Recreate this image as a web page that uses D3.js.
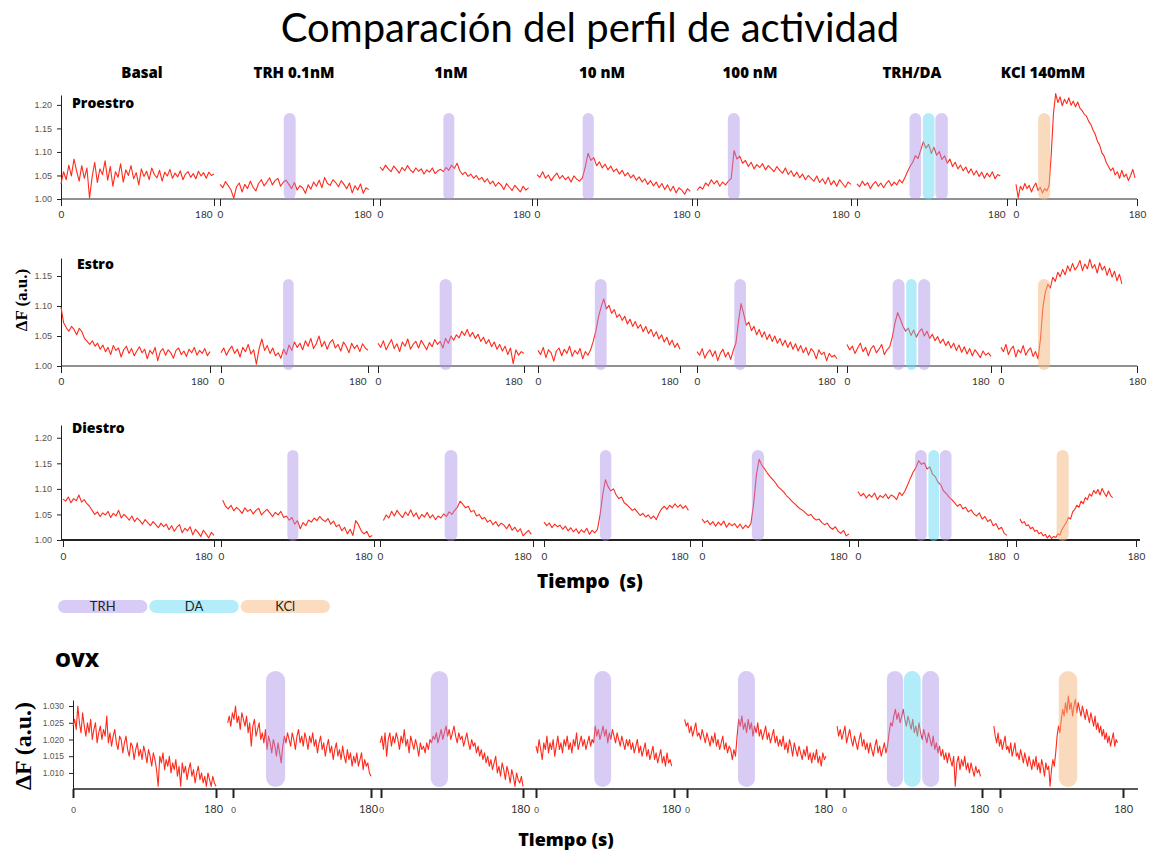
<!DOCTYPE html>
<html lang="es">
<head>
<meta charset="UTF-8">
<title>Comparación del perfil de actividad</title>
<style>
  body { margin: 0; background: #fff; }
  svg { display: block; }
  .title { font-family: Lato, "Open Sans", sans-serif; font-size: 40px; fill: #000; }
  .bold { font-family: "Open Sans", Lato, sans-serif; font-weight: 700; fill: #000; }
  .trace { fill: none; stroke: #ff2a1c; stroke-width: 1.1; stroke-linejoin: round; }
  .yaxis text { font-family: "Liberation Sans", Arial, sans-serif; font-size: 9px; fill: #555; }
  .xaxis text { font-family: Lato, sans-serif; font-size: 10px; fill: #333; }
  .yaxis path, .yaxis line, .xaxis line { stroke: #222; }
  .ylab { font-family: "Liberation Serif", "DejaVu Serif", serif; font-weight: 700; fill: #000; }
  .legend text { font-family: Lato, sans-serif; font-size: 13px; fill: #222; }
</style>
</head>
<body>
<svg id="chart" width="1151" height="852"></svg>

<script src="https://d3js.org/d3.v7.min.js"></script>
<script>
// ---- data ----
const chartTitle = 'Comparación del perfil de actividad';
const conditions = ['Basal', 'TRH 0.1nM', '1nM', '10 nM', '100 nM', 'TRH/DA', 'KCl 140mM'];
const agents = ['TRH', 'DA', 'KCl'];
const xTicks = [0, 180];

// traces, one array per condition (ΔF, evenly sampled between the span limits, in s)
const proestroTraces = [
  [1.032,1.058,1.041,1.072,1.049,1.085,1.060,1.038,1.071,1.044,1.066,1.002,1.047,1.078,1.035,1.064,1.052,1.081,1.040,1.069,1.027,1.058,1.046,1.075,1.036,1.062,1.050,1.071,1.043,1.056,1.030,1.064,1.048,1.059,1.041,1.066,1.052,1.045,1.061,1.038,1.057,1.049,1.063,1.044,1.055,1.047,1.060,1.041,1.053,1.058,1.046,1.054,1.043,1.059,1.049,1.056,1.044,1.057,1.050,1.053],
  [1.031,1.024,1.037,1.028,1.019,1.002,1.026,1.034,1.015,1.031,1.022,1.038,1.025,1.017,1.033,1.041,1.028,1.036,1.045,1.030,1.039,1.044,1.027,1.036,1.040,1.031,1.022,1.035,1.019,1.028,1.024,1.012,1.030,1.021,1.036,1.027,1.040,1.024,1.046,1.033,1.029,1.041,1.035,1.026,1.039,1.031,1.022,1.034,1.013,1.028,1.019,1.032,1.012,1.024,1.020],
  [1.068,1.061,1.072,1.064,1.058,1.070,1.063,1.055,1.067,1.060,1.071,1.062,1.056,1.066,1.059,1.064,1.053,1.062,1.057,1.066,1.054,1.060,1.063,1.058,1.067,1.061,1.072,1.065,1.076,1.060,1.052,1.057,1.048,1.053,1.044,1.050,1.041,1.046,1.036,1.043,1.032,1.038,1.027,1.035,1.030,1.020,1.033,1.025,1.018,1.029,1.022,1.015,1.027,1.019,1.024],
  [1.052,1.046,1.058,1.044,1.051,1.039,1.048,1.055,1.043,1.050,1.041,1.047,1.036,1.049,1.042,1.038,1.045,1.068,1.097,1.082,1.088,1.071,1.079,1.066,1.074,1.062,1.070,1.058,1.064,1.053,1.061,1.049,1.056,1.045,1.051,1.040,1.047,1.036,1.043,1.031,1.039,1.028,1.036,1.024,1.033,1.020,1.030,1.017,1.027,1.013,1.024,1.019,1.010,1.022,1.016],
  [1.018,1.026,1.021,1.034,1.028,1.041,1.032,1.039,1.027,1.036,1.030,1.038,1.044,1.103,1.085,1.091,1.076,1.082,1.069,1.078,1.064,1.073,1.067,1.075,1.062,1.071,1.065,1.058,1.069,1.061,1.055,1.066,1.052,1.060,1.048,1.057,1.045,1.053,1.041,1.050,1.044,1.038,1.049,1.035,1.043,1.032,1.046,1.030,1.039,1.027,1.041,1.033,1.025,1.036,1.031],
  [1.032,1.026,1.038,1.029,1.035,1.022,1.031,1.037,1.027,1.034,1.024,1.033,1.039,1.028,1.036,1.030,1.041,1.034,1.045,1.058,1.069,1.078,1.092,1.086,1.104,1.122,1.108,1.116,1.097,1.110,1.093,1.101,1.084,1.092,1.076,1.085,1.069,1.078,1.064,1.072,1.060,1.068,1.055,1.064,1.051,1.060,1.048,1.057,1.044,1.055,1.047,1.058,1.043,1.052,1.049],
  [1.031,1.003,1.027,1.019,1.033,1.022,1.029,1.015,1.026,1.034,1.018,1.025,1.013,1.022,1.017,1.028,1.095,1.182,1.224,1.205,1.217,1.198,1.212,1.203,1.215,1.199,1.208,1.196,1.206,1.193,1.188,1.180,1.176,1.165,1.158,1.146,1.137,1.122,1.114,1.098,1.091,1.077,1.069,1.060,1.066,1.051,1.058,1.044,1.061,1.047,1.053,1.039,1.050,1.063,1.045]
];
const proestroSpans = [[0, 180], [0, 175], [0, 176], [0, 178], [0, 180], [0, 172], [0, 177]];

const estroTraces = [
  [1.098,1.072,1.064,1.058,1.066,1.061,1.052,1.063,1.057,1.046,1.041,1.036,1.042,1.033,1.038,1.028,1.035,1.024,1.031,1.019,1.034,1.026,1.030,1.015,1.027,1.033,1.021,1.029,1.017,1.025,1.032,1.022,1.028,1.012,1.026,1.020,1.031,1.009,1.024,1.029,1.018,1.027,1.022,1.013,1.026,1.030,1.019,1.025,1.016,1.028,1.022,1.031,1.018,1.026,1.021,1.029,1.017,1.024],
  [1.022,1.030,1.018,1.027,1.033,1.021,1.028,1.015,1.031,1.024,1.036,1.020,1.027,1.003,1.029,1.045,1.026,1.034,1.021,1.030,1.017,1.022,1.013,1.028,1.019,1.035,1.026,1.040,1.031,1.038,1.027,1.042,1.033,1.046,1.029,1.037,1.050,1.032,1.041,1.028,1.039,1.044,1.030,1.036,1.025,1.040,1.033,1.022,1.038,1.029,1.035,1.024,1.037,1.030,1.026],
  [1.038,1.031,1.042,1.027,1.036,1.044,1.029,1.037,1.024,1.040,1.033,1.045,1.028,1.036,1.041,1.030,1.043,1.035,1.027,1.039,1.032,1.044,1.036,1.041,1.030,1.046,1.038,1.050,1.043,1.052,1.047,1.058,1.051,1.061,1.049,1.056,1.046,1.053,1.041,1.048,1.037,1.044,1.032,1.040,1.028,1.036,1.025,1.033,1.019,1.030,1.004,1.027,1.018,1.024,1.021],
  [1.026,1.019,1.031,1.014,1.027,1.022,1.008,1.025,1.030,1.017,1.028,1.021,1.033,1.016,1.026,1.020,1.029,1.012,1.024,1.018,1.027,1.041,1.058,1.082,1.098,1.112,1.095,1.101,1.088,1.094,1.081,1.086,1.076,1.083,1.070,1.078,1.066,1.074,1.063,1.069,1.057,1.066,1.054,1.061,1.049,1.057,1.045,1.052,1.040,1.048,1.035,1.043,1.031,1.038,1.028],
  [1.024,1.018,1.029,1.013,1.022,1.027,1.016,1.025,1.009,1.021,1.028,1.015,1.023,1.011,1.026,1.038,1.074,1.104,1.087,1.068,1.073,1.059,1.066,1.052,1.061,1.048,1.057,1.044,1.053,1.041,1.050,1.038,1.046,1.034,1.043,1.031,1.040,1.028,1.037,1.025,1.034,1.022,1.031,1.018,1.029,1.024,1.012,1.027,1.019,1.023,1.009,1.021,1.015,1.018,1.012],
  [1.036,1.027,1.033,1.021,1.030,1.038,1.024,1.031,1.017,1.029,1.034,1.022,1.028,1.036,1.019,1.027,1.032,1.048,1.072,1.089,1.078,1.066,1.058,1.063,1.051,1.060,1.048,1.057,1.062,1.050,1.058,1.046,1.053,1.042,1.049,1.038,1.045,1.034,1.041,1.030,1.038,1.026,1.035,1.023,1.032,1.020,1.029,1.017,1.027,1.021,1.014,1.025,1.018,1.022,1.016],
  [1.031,1.024,1.036,1.019,1.028,1.033,1.015,1.027,1.022,1.034,1.018,1.026,1.030,1.016,1.024,1.012,1.045,1.098,1.124,1.136,1.130,1.148,1.141,1.156,1.149,1.161,1.152,1.167,1.158,1.171,1.160,1.166,1.176,1.159,1.170,1.162,1.178,1.163,1.169,1.155,1.172,1.160,1.166,1.151,1.163,1.148,1.158,1.142,1.153,1.137]
];
const estroSpans = [[0, 180], [0, 180], [0, 180], [0, 180], [0, 180], [0, 180], [0, 160]];

const diestroTraces = [
  [1.080,1.076,1.084,1.073,1.081,1.077,1.088,1.074,1.079,1.071,1.066,1.058,1.050,1.055,1.046,1.053,1.049,1.056,1.044,1.052,1.047,1.058,1.043,1.050,1.045,1.039,1.047,1.036,1.043,1.038,1.031,1.040,1.034,1.028,1.036,1.030,1.024,1.033,1.026,1.031,1.020,1.028,1.017,1.025,1.030,1.014,1.023,1.018,1.026,1.010,1.021,1.015,1.007,1.019,1.012,1.004,1.015,1.009],
  [1.078,1.066,1.061,1.068,1.057,1.064,1.059,1.052,1.063,1.056,1.060,1.051,1.058,1.062,1.049,1.055,1.060,1.053,1.046,1.054,1.049,1.056,1.044,1.047,1.039,1.044,1.031,1.038,1.022,1.034,1.028,1.039,1.035,1.043,1.038,1.046,1.040,1.036,1.042,1.031,1.037,1.026,1.030,1.018,1.025,1.012,1.021,1.009,1.038,1.030,1.018,1.012,1.017,1.006,1.009],
  [1.038,1.049,1.043,1.056,1.047,1.058,1.050,1.044,1.055,1.048,1.059,1.046,1.053,1.041,1.050,1.045,1.054,1.043,1.049,1.040,1.047,1.043,1.051,1.046,1.055,1.050,1.058,1.064,1.076,1.070,1.063,1.066,1.055,1.058,1.047,1.050,1.041,1.044,1.035,1.039,1.030,1.036,1.027,1.033,1.029,1.022,1.031,1.019,1.025,1.016,1.022,1.008,1.014,1.019,1.011],
  [1.035,1.028,1.033,1.024,1.031,1.026,1.029,1.021,1.027,1.018,1.024,1.016,1.022,1.013,1.020,1.015,1.023,1.011,1.019,1.014,1.021,1.050,1.090,1.118,1.104,1.096,1.100,1.088,1.081,1.084,1.073,1.069,1.064,1.058,1.061,1.054,1.048,1.052,1.045,1.049,1.042,1.047,1.040,1.052,1.061,1.066,1.060,1.068,1.063,1.071,1.064,1.069,1.062,1.067,1.058],
  [1.041,1.034,1.038,1.030,1.036,1.027,1.035,1.029,1.037,1.025,1.033,1.028,1.032,1.024,1.031,1.022,1.029,1.024,1.033,1.072,1.128,1.158,1.146,1.139,1.131,1.124,1.118,1.112,1.104,1.099,1.094,1.087,1.082,1.076,1.071,1.066,1.061,1.058,1.053,1.048,1.050,1.043,1.039,1.041,1.034,1.030,1.033,1.025,1.021,1.026,1.017,1.013,1.019,1.008,1.012],
  [1.095,1.086,1.091,1.082,1.089,1.084,1.092,1.079,1.087,1.083,1.090,1.081,1.088,1.085,1.079,1.093,1.087,1.096,1.108,1.121,1.133,1.142,1.155,1.148,1.151,1.139,1.143,1.129,1.124,1.113,1.108,1.096,1.091,1.084,1.079,1.073,1.066,1.070,1.061,1.064,1.055,1.059,1.051,1.047,1.053,1.041,1.046,1.036,1.040,1.028,1.032,1.021,1.025,1.013,1.009],
  [1.041,1.033,1.036,1.028,1.030,1.022,1.025,1.017,1.019,1.012,1.015,1.008,1.011,1.004,1.009,1.003,1.007,1.005,1.012,1.010,1.021,1.028,1.034,1.044,1.041,1.055,1.060,1.068,1.064,1.076,1.071,1.083,1.079,1.090,1.086,1.097,1.091,1.099,1.088,1.101,1.092,1.085,1.096,1.087,1.083]
];
const diestroSpans = [[0, 180], [2, 178], [4, 178], [0, 178], [0, 180], [0, 180], [6, 145]];

const ovxTraces = [
  [1.024,1.026,1.023,1.030,1.025,1.022,1.028,1.024,1.021,1.025, 1.022,1.026,1.020,1.023,1.025,1.019,1.022,1.024,1.020,1.023,
   1.021,1.027,1.019,1.022,1.018,1.021,1.023,1.019,1.017,1.021, 1.020,1.016,1.019,1.021,1.017,1.015,1.019,1.018,1.014,1.017,
   1.019,1.015,1.017,1.014,1.018,1.016,1.013,1.017,1.015,1.012, 1.016,1.014,1.011,1.006,1.015,1.013,1.016,1.011,1.014,1.012,
   1.015,1.010,1.013,1.011,1.014,1.009,1.012,1.006,1.013,1.010, 1.012,1.008,1.011,1.013,1.009,1.011,1.007,1.010,1.012,1.008,
   1.010,1.007,1.009,1.006,1.010,1.008,1.006,1.009,1.007,1.006],
  [1.025,1.027,1.024,1.028,1.026,1.030,1.025,1.027,1.023,1.028, 1.026,1.024,1.027,1.022,1.025,1.018,1.024,1.026,1.021,1.023,
   1.025,1.020,1.022,1.019,1.023,1.017,1.021,1.019,1.016,1.020, 1.018,1.015,1.019,1.016,1.013,1.018,1.021,1.019,1.022,1.020,
   1.018,1.022,1.020,1.017,1.021,1.023,1.019,1.021,1.018,1.022, 1.020,1.017,1.021,1.019,1.022,1.018,1.020,1.016,1.019,1.021,
   1.017,1.019,1.015,1.018,1.020,1.016,1.018,1.014,1.017,1.019, 1.015,1.017,1.014,1.018,1.015,1.013,1.017,1.014,1.016,1.012,
   1.015,1.013,1.016,1.012,1.014,1.016,1.011,1.014,1.012,1.013,1.010,1.009],
  [1.019,1.021,1.017,1.022,1.015,1.020,1.022,1.018,1.021,1.019, 1.022,1.020,1.017,1.021,1.019,1.023,1.018,1.020,1.016,1.021,
   1.019,1.017,1.020,1.018,1.015,1.019,1.017,1.018,1.016,1.019, 1.017,1.020,1.019,1.021,1.020,1.022,1.019,1.021,1.023,1.020,
   1.022,1.024,1.021,1.023,1.020,1.022,1.024,1.021,1.019,1.022, 1.020,1.021,1.018,1.020,1.022,1.019,1.017,1.020,1.018,1.019,
   1.016,1.018,1.015,1.017,1.014,1.016,1.013,1.015,1.012,1.014, 1.011,1.013,1.015,1.010,1.012,1.009,1.013,1.011,1.008,1.012,
   1.010,1.007,1.011,1.009,1.006,1.010,1.008,1.007,1.009,1.006],
  [1.018,1.016,1.020,1.017,1.014,1.019,1.017,1.021,1.016,1.019, 1.017,1.020,1.015,1.018,1.021,1.017,1.019,1.016,1.020,1.018,
   1.021,1.017,1.019,1.016,1.020,1.018,1.022,1.017,1.019,1.021, 1.018,1.020,1.017,1.019,1.021,1.018,1.020,1.019,1.024,1.021,
   1.023,1.020,1.022,1.024,1.021,1.023,1.019,1.022,1.020,1.023, 1.021,1.019,1.022,1.020,1.018,1.021,1.019,1.017,1.020,1.018,
   1.020,1.017,1.019,1.016,1.018,1.020,1.016,1.018,1.015,1.017, 1.019,1.015,1.017,1.014,1.016,1.018,1.014,1.016,1.013,1.015,
   1.017,1.013,1.015,1.012,1.016,1.013,1.014,1.012],
  [1.026,1.024,1.025,1.022,1.024,1.021,1.023,1.025,1.021,1.022, 1.020,1.023,1.021,1.019,1.022,1.020,1.018,1.021,1.019,1.022,
   1.018,1.020,1.017,1.019,1.021,1.017,1.019,1.016,1.018,1.017, 1.014,1.017,1.015,1.021,1.026,1.024,1.027,1.023,1.025,1.022,
   1.026,1.023,1.025,1.021,1.024,1.022,1.025,1.021,1.023,1.020, 1.022,1.024,1.020,1.022,1.019,1.021,1.023,1.019,1.021,1.018,
   1.020,1.018,1.021,1.017,1.019,1.016,1.020,1.018,1.015,1.019, 1.017,1.015,1.018,1.016,1.014,1.017,1.015,1.018,1.014,1.016,
   1.013,1.016,1.014,1.017,1.013,1.015,1.012,1.016,1.014,1.015],
  [1.024,1.021,1.023,1.020,1.022,1.024,1.019,1.021,1.023,1.020, 1.018,1.021,1.019,1.017,1.020,1.022,1.018,1.020,1.017,1.019,
   1.016,1.019,1.017,1.015,1.018,1.020,1.016,1.018,1.015,1.017, 1.019,1.016,1.018,1.022,1.025,1.024,1.027,1.029,1.026,1.028,
   1.025,1.027,1.029,1.026,1.024,1.027,1.025,1.023,1.026,1.022, 1.024,1.021,1.025,1.022,1.020,1.023,1.021,1.019,1.022,1.020,
   1.018,1.021,1.017,1.019,1.016,1.018,1.015,1.017,1.014,1.016, 1.013,1.016,1.014,1.012,1.015,1.006,1.013,1.015,1.011,1.014,
   1.012,1.015,1.011,1.013,1.010,1.013,1.011,1.009,1.012,1.010,1.011,1.009],
  [1.024,1.021,1.019,1.022,1.018,1.020,1.017,1.019,1.021,1.017, 1.018,1.016,1.019,1.015,1.017,1.019,1.015,1.016,1.014,1.017,
   1.015,1.013,1.016,1.014,1.012,1.015,1.013,1.011,1.014,1.012, 1.015,1.011,1.013,1.010,1.014,1.012,1.009,1.013,1.011,1.012,
   1.006,1.011,1.014,1.012,1.016,1.021,1.024,1.022,1.026,1.029, 1.027,1.031,1.028,1.033,1.029,1.031,1.027,1.030,1.032,1.028,
   1.031,1.029,1.027,1.030,1.028,1.026,1.029,1.027,1.025,1.028, 1.026,1.024,1.027,1.023,1.025,1.022,1.024,1.021,1.023,1.020,
   1.022,1.019,1.021,1.018,1.020,1.022,1.018,1.020,1.019]
];
const ovxSpans = [[0, 180], [-7, 180], [-1, 180], [0, 177], [-3, 180], [-9, 178], [-9, 172]];

// stimuli: [condition index, agent, start s, end s]
const proestroStim = [[1,'TRH',75,89],[2,'TRH',75,88],[3,'TRH',53,66],[4,'TRH',36,50],[5,'TRH',63,77],[5,'DA',79,93],[5,'TRH',94,109],[6,'KCl',33,51]];
const estroStim = [[1,'TRH',76,89],[2,'TRH',76,91],[3,'TRH',72,87],[4,'TRH',48,63],[5,'TRH',57,72],[5,'DA',74,87],[5,'TRH',89,104],[6,'KCl',49,65]];
const diestroStim = [[1,'TRH',78,91],[2,'TRH',76,91],[3,'TRH',69,83],[4,'TRH',61,76],[5,'TRH',69,83],[5,'DA',85,98],[5,'TRH',99,113],[6,'KCl',61,79]];
const ovxStim = [[1,'TRH',43,68],[2,'TRH',63,85],[3,'TRH',76,98],[4,'TRH',66,88],[5,'TRH',56,77],[5,'DA',78,100],[5,'TRH',102,124],[6,'KCl',86,113]];

const groups = ['Proestro', 'Estro', 'Diestro', 'OVX'];
const proestroTicks = [1.00, 1.05, 1.10, 1.15, 1.20];
const estroTicks = [1.00, 1.05, 1.10, 1.15];
const diestroTicks = [1.00, 1.05, 1.10, 1.15, 1.20];
const ovxTicks = [1.010, 1.015, 1.020, 1.025, 1.030];

// ---- layout ----
const rows = [
  { name: groups[0], traces: proestroTraces, spans: proestroSpans, stim: proestroStim, ticks: proestroTicks,
    yDomain: [1.0, 1.221], yRange: [199, 95], axisX: 61, axisEnd: 1137,
    panels: [[61,214],[220,373],[380,532],[537,692],[697,851],[857,1007],[1016,1137]],
    bar: [113, 200], labelPos: [72, 108], tickLabelY: 218 },
  { name: groups[1], traces: estroTraces, spans: estroSpans, stim: estroStim, ticks: estroTicks,
    yDomain: [1.0, 1.18], yRange: [366, 258], axisX: 61, axisEnd: 1137,
    panels: [[61,210],[221,368],[378,524],[538,680],[697,837],[847,991],[1001,1137]],
    bar: [279, 370], labelPos: [77, 269], tickLabelY: 385 },
  { name: groups[2], traces: diestroTraces, spans: diestroSpans, stim: diestroStim, ticks: diestroTicks,
    yDomain: [1.0, 1.225], yRange: [540, 425], axisX: 61, axisEnd: 1140, thick: true,
    panels: [[63,214],[221,374],[380,533],[544,690],[702,849],[858,1007],[1016,1136]],
    bar: [450, 541], labelPos: [72, 433], tickLabelY: 560 },
  { name: groups[3], traces: ovxTraces, spans: ovxSpans, stim: ovxStim, ticks: ovxTicks,
    yDomain: [1.0052, 1.0318], yRange: [789, 700], axisX: 73, axisEnd: 1138, ovx: true,
    panels: [[73,216],[233,371],[381,523],[536,674],[687,826],[844,982],[1000,1123]],
    bar: [671, 787], labelPos: [55, 667], tickLabelY: 813 }
];

const headerX = [142, 294, 451, 602, 750, 912, 1043];

const barColor = d3.scaleOrdinal().domain(agents).range(['#a98de8', '#5fd8f2', '#f5b57a']);
const barOpacity = { TRH: 0.45, DA: 0.48, KCl: 0.5 };
const legendColor = d3.scaleOrdinal().domain(agents).range(['#d8cbf5', '#b2edf9', '#fbdcc0']);

const svg = d3.select('#chart');

// title and column headers
svg.append('text')
  .attr('class', 'title')
  .attr('x', 590).attr('y', 42)
  .attr('text-anchor', 'middle')
  .text(chartTitle);

svg.selectAll('.header')
  .data(conditions)
  .enter().append('text')
  .attr('class', 'bold header')
  .attr('x', (d, i) => headerX[i])
  .attr('y', 78)
  .attr('text-anchor', 'middle')
  .style('font-size', '15px')
  .style('font-weight', 800)
  .text(d => d);

rows.forEach(row => {
  const g = svg.append('g');
  const y = d3.scaleLinear().domain(row.yDomain).range(row.yRange);

  // y axis
  g.append('g')
    .attr('class', 'yaxis')
    .attr('transform', `translate(${row.axisX},0)`)
    .call(d3.axisLeft(y)
      .tickValues(row.ticks)
      .tickSize(4)
      .tickSizeOuter(0)
      .tickFormat(d3.format(row.ovx ? '.3f' : '.2f')))
    .call(a => a.selectAll('text').attr('dx', '-2').style('font-size', row.ovx ? '8.5px' : '9px'));

  // continuous x axis line
  g.append('line')
    .attr('x1', row.axisX).attr('x2', row.axisEnd)
    .attr('y1', y(row.yDomain[0])).attr('y2', y(row.yDomain[0]))
    .attr('stroke', '#222')
    .attr('stroke-width', row.thick ? 1.8 : (row.ovx ? 1.3 : 1));

  row.panels.forEach((px, i) => {
    const x = d3.scaleLinear().domain([0, 180]).range(px);
    const last = i === row.panels.length - 1;

    // ticks at 0 and 180 for every condition
    const ax = g.append('g')
      .attr('class', 'xaxis')
      .attr('transform', `translate(0,${y(row.yDomain[0])})`)
      .call(d3.axisBottom(x).tickValues(xTicks).tickSize(row.ovx ? 9 : 7).tickSizeOuter(0));
    ax.select('.domain').remove();
    ax.selectAll('line').attr('stroke-width', row.ovx ? 2 : 1);
    ax.selectAll('text')
      .attr('y', row.tickLabelY - y(row.yDomain[0]))
      .attr('dy', 0)
      .attr('text-anchor', d => (d === 180 && !last && !row.ovx) ? 'end' : 'middle')
      .attr('dx', d => (d === 180 && !last) ? (row.ovx ? -3 : -2) : 0)
      .style('font-size', d => row.ovx ? (d === 0 ? '8px' : '11px') : '10px');

    // trace
    const data = row.traces[i];
    const [t0, t1] = row.spans[i];
    const dt = (t1 - t0) / (data.length - 1);
    const line = d3.line()
      .x((d, k) => x(t0 + k * dt))
      .y(d => y(d));
    g.append('path')
      .datum(data)
      .attr('class', 'trace')
      .attr('d', line);

    // stimulus bars drawn on top of the trace
    g.selectAll(null)
      .data(row.stim.filter(s => s[0] === i))
      .enter().append('rect')
      .attr('x', s => x(s[2]))
      .attr('width', s => x(s[3]) - x(s[2]))
      .attr('y', row.bar[0])
      .attr('height', row.bar[1] - row.bar[0])
      .attr('rx', s => (x(s[3]) - x(s[2])) / 2)
      .attr('fill', s => barColor(s[1]))
      .attr('fill-opacity', s => barOpacity[s[1]]);
  });

  // group label
  g.append('text')
    .attr('class', 'bold')
    .attr('x', row.labelPos[0]).attr('y', row.labelPos[1])
    .style('font-size', row.ovx ? '20px' : '14px')
    .style('font-weight', 800)
    .text(row.name);
});

// axis titles
svg.append('text')
  .attr('class', 'ylab')
  .attr('transform', 'translate(27,300) rotate(-90)')
  .attr('text-anchor', 'middle')
  .style('font-size', '17px')
  .text('ΔF (a.u.)');
svg.append('text')
  .attr('class', 'ylab')
  .attr('transform', 'translate(31,746) rotate(-90)')
  .attr('text-anchor', 'middle')
  .style('font-size', '24px')
  .text('ΔF (a.u.)');

svg.append('text')
  .attr('class', 'bold')
  .attr('x', 590).attr('y', 588)
  .attr('text-anchor', 'middle')
  .style('font-size', '19px')
  .style('font-weight', 800)
  .attr('xml:space', 'preserve')
  .text('Tiempo  (s)');
svg.append('text')
  .attr('class', 'bold')
  .attr('x', 566).attr('y', 846)
  .attr('text-anchor', 'middle')
  .style('font-size', '18px')
  .style('font-weight', 800)
  .text('Tiempo (s)');

// legend
const legend = svg.append('g').attr('class', 'legend');
const legendX = d3.scaleBand().domain(agents).range([58, 330]).paddingInner(0.02);
legend.selectAll('rect')
  .data(agents)
  .enter().append('rect')
  .attr('x', d => legendX(d))
  .attr('y', 600)
  .attr('width', legendX.bandwidth())
  .attr('height', 13)
  .attr('rx', 6.5)
  .attr('fill', d => legendColor(d));
legend.selectAll('text')
  .data(agents)
  .enter().append('text')
  .attr('x', d => legendX(d) + legendX.bandwidth() / 2)
  .attr('y', 611)
  .attr('text-anchor', 'middle')
  .text(d => d);
</script>
</body>
</html>
